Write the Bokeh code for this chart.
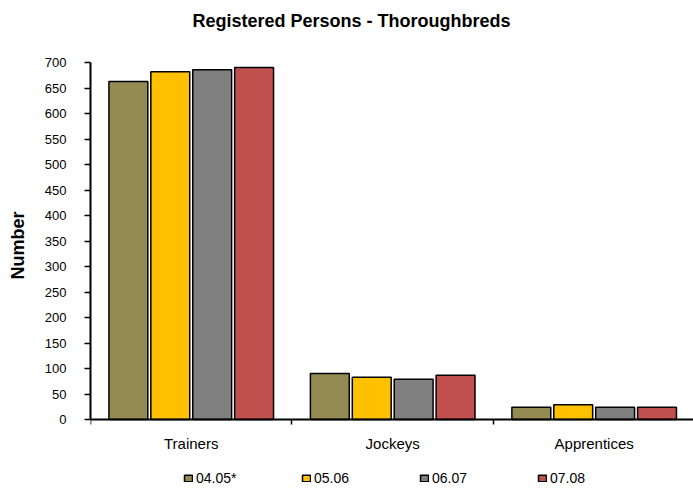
from bokeh.plotting import figure
from bokeh.models import Range1d, FixedTicker, Legend, LegendItem, ColumnDataSource, Label
from bokeh.transform import dodge
from bokeh.embed import file_html
from bokeh.resources import INLINE

categories = ["Trainers", "Jockeys", "Apprentices"]
seasons = ["04.05*", "05.06", "06.07", "07.08"]
v0405 = [663, 90, 24]
v0506 = [682, 83, 29]
v0607 = [686, 79, 24]
v0708 = [690, 87, 24]
colors = ["#948A54", "#FFC000", "#808080", "#C0504D"]
y_ticks = list(range(0, 701, 50))
title_text = "Registered Persons - Thoroughbreds"

FONT = "Liberation Sans"

centers = [i + 0.5 for i in range(len(categories))]
source = ColumnDataSource(dict(x=centers, v0405=v0405, v0506=v0506, v0607=v0607, v0708=v0708))

p = figure(width=693, height=490, output_backend="svg", toolbar_location=None,
           x_range=Range1d(0, 2.993), y_range=Range1d(-139.2, 821.6),
           min_border_left=90, min_border_right=0, min_border_top=0, min_border_bottom=0)

p.outline_line_color = None
p.xgrid.visible = False
p.ygrid.visible = False
p.background_fill_color = "white"
p.border_fill_color = "white"

pitch = 0.208
offsets = [-1.5 * pitch, -0.5 * pitch, 0.5 * pitch, 1.5 * pitch]
cols = ["v0405", "v0506", "v0607", "v0708"]
renderers = []
for col, off, c in zip(cols, offsets, colors):
    r = p.vbar(x=dodge("x", off, range=p.x_range), top=col, width=0.193, source=source,
               fill_color=c, line_color="black", line_width=1.5)
    renderers.append(r)

# y axis
ya = p.yaxis[0]
ya.ticker = FixedTicker(ticks=y_ticks)
ya.bounds = (0, 700)
ya.axis_line_width = 2
ya.axis_line_color = "black"
ya.major_tick_out = 6
ya.major_tick_in = 0
ya.major_tick_line_width = 1.5
ya.minor_tick_line_color = None
ya.major_label_text_font = FONT
ya.major_label_text_font_size = "13px"
ya.major_label_standoff = 18
ya.major_label_text_color = "black"
ya.axis_label = "Number"
ya.axis_label_text_font = FONT
ya.axis_label_text_font_size = "18px"
ya.axis_label_text_font_style = "bold"
ya.axis_label_text_color = "black"
ya.axis_label_standoff = 14

# x axis (drawn at y = 0)
xa = p.xaxis[0]
xa.fixed_location = 0
xa.ticker = FixedTicker(ticks=centers, minor_ticks=[0, 1, 2, 3])
xa.major_label_overrides = {c: n for c, n in zip(centers, categories)}
xa.major_tick_line_color = None
xa.major_tick_out = 0
xa.major_tick_in = 0
xa.minor_tick_out = 5
xa.minor_tick_in = 0
xa.minor_tick_line_width = 1.5
xa.minor_tick_line_color = "black"
xa.axis_line_width = 2
xa.axis_line_color = "black"
xa.major_label_text_font = FONT
xa.major_label_text_font_size = "15px"
xa.major_label_standoff = 10
xa.major_label_text_color = "black"

title = Label(x=261, y=470, x_units="screen", y_units="screen", text=title_text,
              text_align="center", text_baseline="middle", text_font=FONT,
              text_font_size="18px", text_font_style="bold", text_color="black")
p.add_layout(title)

items = [LegendItem(label=s, renderers=[r]) for s, r in zip(seasons, renderers)]
legend = Legend(items=items, orientation="horizontal", location=(93, 4),
                glyph_width=10, glyph_height=8, label_standoff=3, label_width=95,
                label_height=12, spacing=10, padding=0, margin=0,
                border_line_color=None, background_fill_alpha=0,
                label_text_font=FONT, label_text_font_size="14px", label_text_color="black")
p.add_layout(legend, "center")

open("out.html", "w").write(file_html(p, INLINE))
